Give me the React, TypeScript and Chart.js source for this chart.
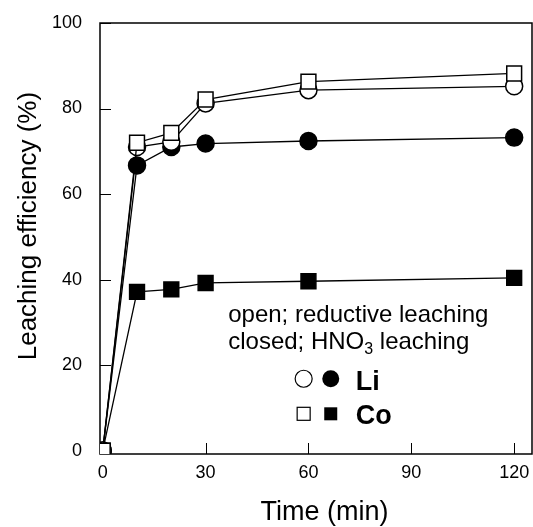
import React, { useEffect, useRef } from "react";
import { Chart, registerables } from "chart.js";

Chart.register(...registerables);

const timeMin = [0, 10, 20, 30, 60, 120];
const liReductive = [0, 71.0, 72.2, 81.2, 84.3, 85.2];
const coReductive = [0, 72.0, 74.3, 82.1, 86.3, 88.2];
const liHNO3 = [0, 66.7, 71.0, 71.8, 72.4, 73.2];
const coHNO3 = [0, 37.1, 37.7, 39.2, 39.6, 40.4];

const xTicks = [0, 30, 60, 90, 120];
const yTicks = [0, 20, 40, 60, 80, 100];

const xTitle = "Time (min)";
const yTitle = "Leaching efficiency (%)";
const noteLine1 = "open; reductive leaching";
const noteLine2 = ["closed; HNO", "3", " leaching"];
const legendLabels = ["Li", "Co"];

const FONT = '"Liberation Sans", Arial, Helvetica, sans-serif';

const pts = (ys: number[]) => timeMin.map((x, i) => ({ x, y: ys[i] }));

const framePlugin = {
  id: "frame",
  beforeDatasetsDraw(chart: any) {
    const { ctx, chartArea: a } = chart;
    const xs = chart.scales.x;
    const ys = chart.scales.y;
    ctx.save();
    ctx.strokeStyle = "#000";
    ctx.lineWidth = 1.5;
    ctx.strokeRect(a.left, a.top, a.right - a.left, a.bottom - a.top);
    ctx.beginPath();
    for (const v of yTicks) {
      const y = Math.round(ys.getPixelForValue(v)) + 0.5;
      ctx.moveTo(a.left, y);
      ctx.lineTo(a.left + 11, y);
    }
    for (const v of xTicks) {
      const x = Math.round(xs.getPixelForValue(v)) + 0.5;
      ctx.moveTo(x, a.bottom);
      ctx.lineTo(x, a.bottom - 11);
    }
    ctx.lineWidth = 1;
    ctx.stroke();
    ctx.fillStyle = "#000";
    ctx.textAlign = "center";
    ctx.textBaseline = "middle";
    // x axis title
    ctx.font = `27px ${FONT}`;
    ctx.fillText(xTitle, xs.getPixelForValue(64.7), a.bottom + 59);
    // y axis title
    ctx.font = `26px ${FONT}`;
    ctx.translate(29, ys.getPixelForValue(52.5));
    ctx.rotate(-Math.PI / 2);
    ctx.fillText(yTitle, 0, 0);
    ctx.restore();
  },
};

const notePlugin = {
  id: "note",
  afterDatasetsDraw(chart: any) {
    const { ctx } = chart;
    const xs = chart.scales.x;
    const ys = chart.scales.y;
    const X = (v: number) => xs.getPixelForValue(v);
    const Y = (v: number) => ys.getPixelForValue(v);
    ctx.save();
    ctx.fillStyle = "#000";
    ctx.textBaseline = "middle";
    ctx.textAlign = "left";
    ctx.font = `24px ${FONT}`;
    const x0 = X(36.6);
    ctx.fillText(noteLine1, x0, Y(31.6));
    let x = x0;
    const y2 = Y(25.3);
    ctx.fillText(noteLine2[0], x, y2);
    x += ctx.measureText(noteLine2[0]).width;
    ctx.font = `16px ${FONT}`;
    ctx.fillText(noteLine2[1], x, y2 + 7);
    x += ctx.measureText(noteLine2[1]).width;
    ctx.font = `24px ${FONT}`;
    ctx.fillText(noteLine2[2], x, y2);

    const rowY = [Y(16.8), Y(8.6)];
    const mx1 = X(58.6);
    const mx2 = X(66.5);
    ctx.strokeStyle = "#000";
    ctx.lineWidth = 1.2;
    ctx.beginPath();
    ctx.arc(mx1, rowY[0], 8.5, 0, Math.PI * 2);
    ctx.fillStyle = "#fff";
    ctx.fill();
    ctx.stroke();
    ctx.beginPath();
    ctx.arc(mx2, rowY[0], 8.5, 0, Math.PI * 2);
    ctx.fillStyle = "#000";
    ctx.fill();
    const s = 13;
    ctx.fillStyle = "#fff";
    ctx.fillRect(mx1 - s / 2, rowY[1] - s / 2, s, s);
    ctx.strokeRect(mx1 - s / 2, rowY[1] - s / 2, s, s);
    ctx.fillStyle = "#000";
    ctx.fillRect(mx2 - s / 2, rowY[1] - s / 2, s, s);

    ctx.font = `bold 27px ${FONT}`;
    ctx.fillText(legendLabels[0], X(73.8), Y(15.9));
    ctx.fillText(legendLabels[1], X(73.8), Y(8.0));
    ctx.restore();
  },
};

const zeroPad = (s: any) => {
  s.paddingTop = 0;
  s.paddingBottom = 0;
  s.paddingLeft = 0;
  s.paddingRight = 0;
};

export default function App() {
  const ref = useRef<HTMLCanvasElement | null>(null);
  useEffect(() => {
    if (!ref.current) return;
    const common = {
      borderColor: "#000",
      borderWidth: 1.3,
      pointBorderColor: "#000",
      pointBorderWidth: 1.5,
      pointHoverRadius: 0,
    };
    const chart = new Chart(ref.current, {
      type: "line",
      data: {
        datasets: [
          {
            ...common,
            label: "Co reductive",
            data: pts(coReductive),
            pointStyle: "rect",
            pointRadius: 10.5,
            pointBackgroundColor: "#fff",
          },
          {
            ...common,
            label: "Li reductive",
            data: pts(liReductive),
            pointStyle: "circle",
            pointRadius: 8.5,
            pointBackgroundColor: "#fff",
          },
          {
            ...common,
            label: "Li HNO3",
            data: pts(liHNO3),
            pointStyle: "circle",
            pointRadius: 8.5,
            pointBackgroundColor: "#000",
          },
          {
            ...common,
            label: "Co HNO3",
            data: pts(coHNO3),
            pointStyle: "rect",
            pointRadius: 10.5,
            pointBackgroundColor: "#000",
          },
        ],
      },
      options: {
        animation: false,
        responsive: false,
        events: [],
        layout: { autoPadding: false, padding: { top: 23, right: 1, left: 0, bottom: 0 } },
        plugins: { legend: { display: false }, tooltip: { enabled: false } },
        scales: {
          x: {
            type: "linear",
            min: -0.8,
            max: 125.2,
            grid: { display: false, drawTicks: false },
            border: { display: false },
            afterBuildTicks: (s: any) => {
              s.ticks = xTicks.map((v) => ({ value: v }));
            },
            afterFit: (s: any) => {
              s.height = 73;
              zeroPad(s);
            },
            ticks: {
              color: "#000",
              padding: 8,
              maxRotation: 0,
              autoSkip: false,
              font: { family: FONT, size: 18 },
              callback: (v: any) => String(v),
            },
            title: { display: false, text: xTitle },
          },
          y: {
            type: "linear",
            min: -0.8,
            max: 100,
            grid: { display: false, drawTicks: false },
            border: { display: false },
            afterBuildTicks: (s: any) => {
              s.ticks = yTicks.map((v) => ({ value: v }));
            },
            afterFit: (s: any) => {
              s.width = 100;
              zeroPad(s);
            },
            ticks: {
              color: "#000",
              padding: 18,
              autoSkip: false,
              font: { family: FONT, size: 18 },
              callback: (v: any) => String(v),
            },
            title: { display: false, text: yTitle },
          },
        },
      },
      plugins: [framePlugin, notePlugin],
    } as any);
    return () => chart.destroy();
  }, []);
  return (
    <div style={{ position: "fixed", left: 0, top: 0, width: 533, height: 527, background: "#fff" }}>
      <canvas ref={ref} width={533} height={527} style={{ width: 533, height: 527, display: "block" }} />
    </div>
  );
}
